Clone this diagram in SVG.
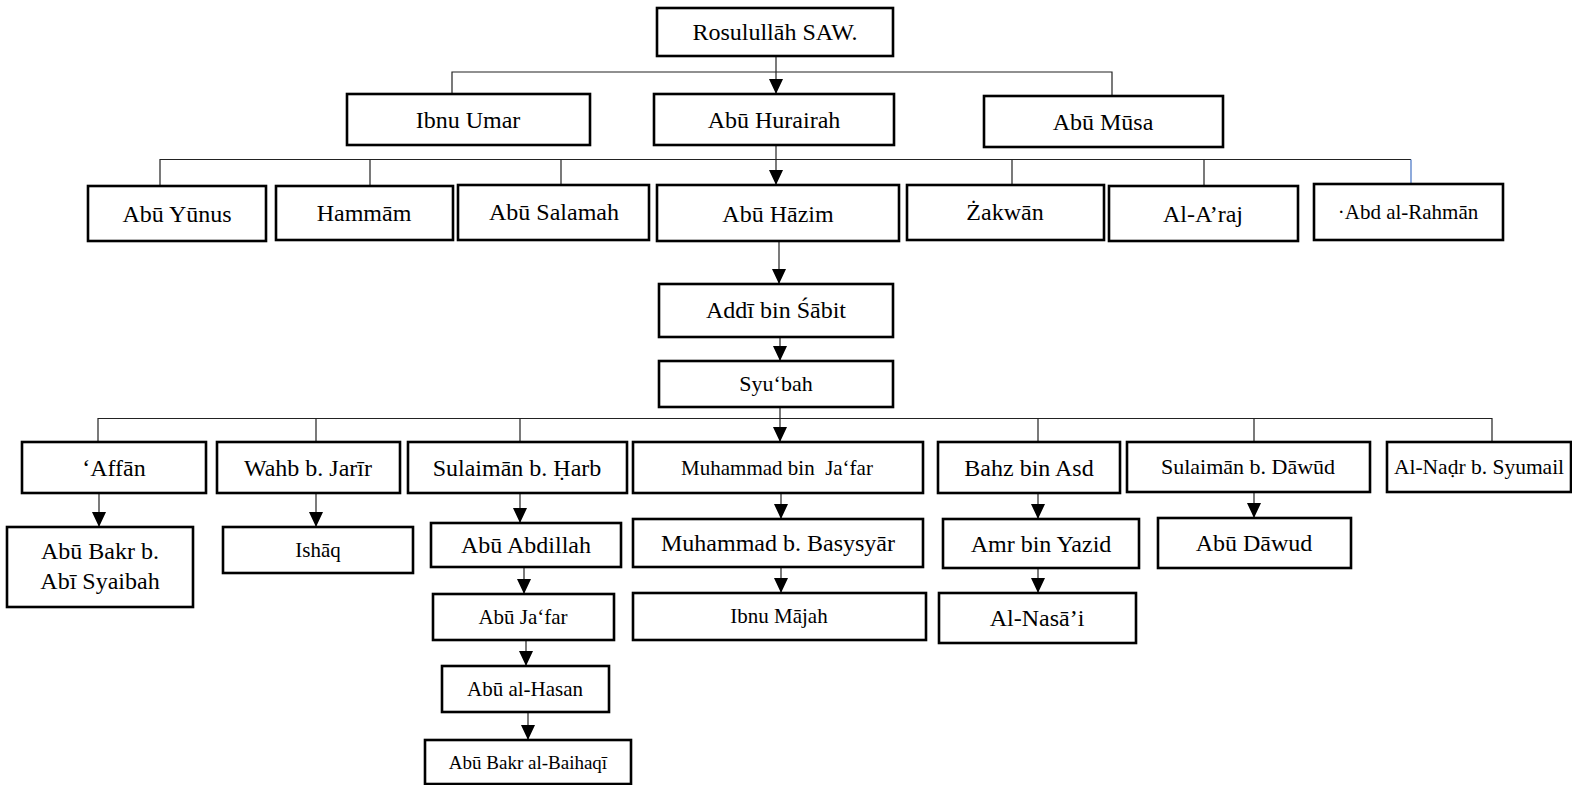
<svg xmlns="http://www.w3.org/2000/svg" width="1572" height="785" viewBox="0 0 1572 785">
<style>
.b{fill:#fff;stroke:#000;stroke-width:2.6}
.t{font-family:"Liberation Serif","Times New Roman",serif;font-size:24px;fill:#000;text-anchor:middle}
.s{font-size:21px}
.xs{font-size:19px}
.c{fill:none;stroke:#222;stroke-width:1.2}
.a{fill:none;stroke:#222;stroke-width:1.2;marker-end:url(#ah)}
</style>
<defs>
<marker id="ah" markerUnits="userSpaceOnUse" viewBox="0 0 15 14" refX="15" refY="7" markerWidth="15" markerHeight="14" orient="auto">
<path d="M0,0 L15,7 L0,14 Z" fill="#000"/>
</marker>
</defs>
<rect width="1572" height="785" fill="#fff"/>
<g id="connectors">
<path class="c" d="M452,94 V72 H1112 V96"/>
<path class="a" d="M776,56 V94"/>
<path class="c" d="M160,186 V159.5 H1411"/>
<path class="c" d="M370,186 V159.5 M561,185 V159.5 M1012,185 V159.5 M1204,185 V159.5"/>
<path fill="none" stroke="#4472C4" stroke-width="1.2" d="M1411,159.5 V184"/>
<path class="a" d="M776,145 V185"/>
<path class="a" d="M779,241 V284"/>
<path class="a" d="M780,337 V361"/>
<path class="c" d="M780,407 V418.5 M98,442 V418.5 H1492 V442"/>
<path class="c" d="M316,442 V418.5 M520,442 V418.5 M1038,442 V418.5 M1254,442 V418.5"/>
<path class="a" d="M780,418.5 V442"/>
<path class="a" d="M99,493 V527"/>
<path class="a" d="M316,493 V527"/>
<path class="a" d="M520,493 V523"/>
<path class="a" d="M781,493 V519"/>
<path class="a" d="M1038,493 V519"/>
<path class="a" d="M1254,492 V518"/>
<path class="a" d="M524,567 V594"/>
<path class="a" d="M781,567 V593"/>
<path class="a" d="M1038,568 V593"/>
<path class="a" d="M526,640 V666"/>
<path class="a" d="M528,712 V740"/>
</g>
<g id="n-rosul"><rect class="b" x="657" y="8" width="236" height="48"/><text class="t" x="775" y="40">Rosulullāh SAW.</text></g>
<g id="n-ibnuumar"><rect class="b" x="347" y="94" width="243" height="51"/><text class="t" x="468" y="128">Ibnu Umar</text></g>
<g id="n-abuhurairah"><rect class="b" x="654" y="94" width="240" height="51"/><text class="t" x="774" y="128">Abū Hurairah</text></g>
<g id="n-abumusa"><rect class="b" x="984" y="96" width="239" height="51"/><text class="t" x="1103" y="130">Abū Mūsa</text></g>
<g id="n-abuyunus"><rect class="b" x="88" y="186" width="178" height="55"/><text class="t" x="177" y="222">Abū Yūnus</text></g>
<g id="n-hammam"><rect class="b" x="276" y="186" width="177" height="54"/><text class="t" x="364" y="221">Hammām</text></g>
<g id="n-abusalamah"><rect class="b" x="458" y="185" width="191" height="55"/><text class="t" x="554" y="220">Abū Salamah</text></g>
<g id="n-abuhazim"><rect class="b" x="657" y="185" width="242" height="56"/><text class="t" x="778" y="222">Abū Hāzim</text></g>
<g id="n-zakwan"><rect class="b" x="907" y="185" width="197" height="55"/><text class="t" x="1005" y="220">Żakwān</text></g>
<g id="n-alaraj"><rect class="b" x="1109" y="186" width="189" height="55"/><text class="t" x="1203" y="222">Al-A’raj</text></g>
<g id="n-abdrahman"><rect class="b" x="1314" y="184" width="189" height="56"/><text class="t s" x="1408" y="219">·Abd al-Rahmān</text></g>
<g id="n-addi"><rect class="b" x="659" y="284" width="234" height="53"/><text class="t" x="776" y="318">Addī bin Śābit</text></g>
<g id="n-syubah"><rect class="b" x="659" y="361" width="234" height="46"/><text class="t" x="776" y="391" style="font-size:22px">Syu‘bah</text></g>
<g id="n-affan"><rect class="b" x="22" y="442" width="184" height="51"/><text class="t" x="114" y="476">‘Affān</text></g>
<g id="n-wahb"><rect class="b" x="217" y="442" width="183" height="51"/><text class="t" x="308" y="476">Wahb b. Jarīr</text></g>
<g id="n-sulaimanharb"><rect class="b" x="408" y="442" width="219" height="51"/><text class="t" x="517" y="476">Sulaimān b. Ḥarb</text></g>
<g id="n-muhjafar"><rect class="b" x="633" y="442" width="290" height="51"/><text class="t s" x="777" y="475" style="white-space:pre">Muhammad bin  Ja‘far</text></g>
<g id="n-bahz"><rect class="b" x="938" y="442" width="182" height="51"/><text class="t" x="1029" y="476">Bahz bin Asd</text></g>
<g id="n-sulaimandawud"><rect class="b" x="1127" y="442" width="243" height="50"/><text class="t" x="1248" y="474" style="font-size:22px">Sulaimān b. Dāwūd</text></g>
<g id="n-nadr"><rect class="b" x="1387" y="442" width="184" height="50"/><text class="t" x="1479" y="474" style="font-size:21.5px">Al-Naḍr b. Syumail</text></g>
<g id="n-abubakr"><rect class="b" x="7" y="527" width="186" height="80"/><text class="t" x="100" y="559">Abū Bakr b.</text><text class="t" x="100" y="589">Abī Syaibah</text></g>
<g id="n-ishaq"><rect class="b" x="223" y="527" width="190" height="46"/><text class="t s" x="318" y="557">Ishāq</text></g>
<g id="n-abuabdillah"><rect class="b" x="431" y="523" width="190" height="44"/><text class="t" x="526" y="553">Abū Abdillah</text></g>
<g id="n-muhbasysyar"><rect class="b" x="633" y="519" width="290" height="48"/><text class="t" x="778" y="551">Muhammad b. Basysyār</text></g>
<g id="n-amr"><rect class="b" x="943" y="519" width="196" height="49"/><text class="t" x="1041" y="552">Amr bin Yazid</text></g>
<g id="n-abudawud"><rect class="b" x="1158" y="518" width="193" height="50"/><text class="t" x="1254" y="551">Abū Dāwud</text></g>
<g id="n-abujafar"><rect class="b" x="433" y="594" width="181" height="46"/><text class="t s" x="523" y="624">Abū Ja‘far</text></g>
<g id="n-ibnumajah"><rect class="b" x="633" y="593" width="293" height="47"/><text class="t s" x="779" y="623">Ibnu Mājah</text></g>
<g id="n-nasai"><rect class="b" x="939" y="593" width="197" height="50"/><text class="t" x="1037" y="626">Al-Nasā’i</text></g>
<g id="n-abuhasan"><rect class="b" x="442" y="666" width="167" height="46"/><text class="t s" x="525" y="696">Abū al-Hasan</text></g>
<g id="n-baihaqi"><rect class="b" x="425" y="740" width="206" height="44"/><text class="t xs" x="528" y="769">Abū Bakr al-Baihaqī</text></g>
</svg>
